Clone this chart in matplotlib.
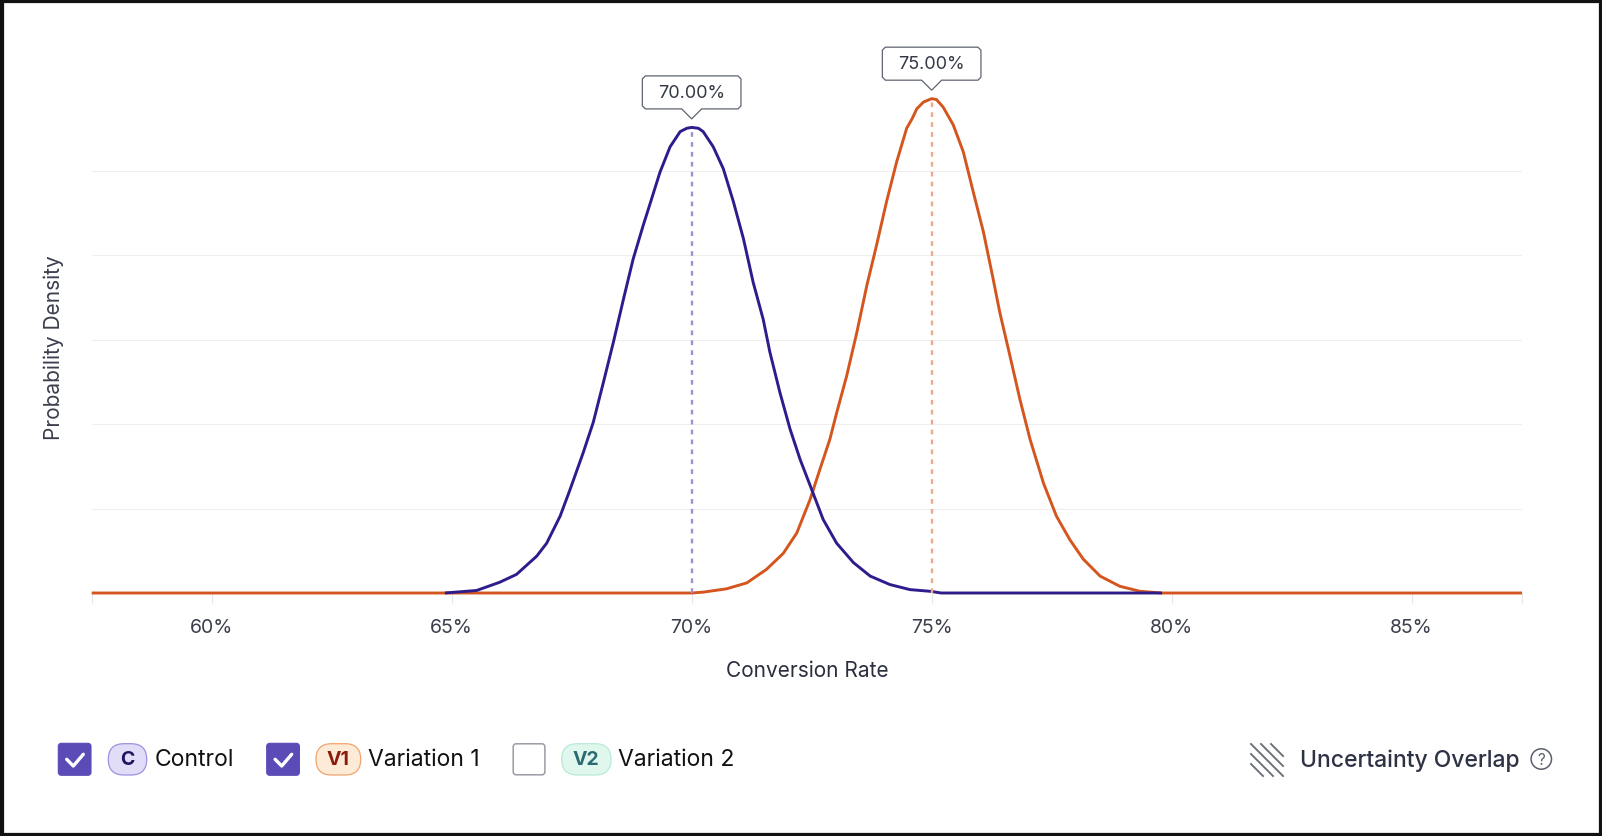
import matplotlib
matplotlib.use("Agg")
import matplotlib.pyplot as plt
from matplotlib.patches import FancyBboxPatch, Polygon, Circle, Rectangle
from matplotlib.lines import Line2D
from matplotlib.transforms import IdentityTransform
import numpy as np

plt.rcParams['font.family'] = ['Inter', 'DejaVu Sans']

W, H = 1602, 837

# ---------------- data ----------------
x_min, x_max = 57.5, 87.3
tick_values = [60, 65, 70, 75, 80, 85]
tick_labels = ['60%', '65%', '70%', '75%', '80%', '85%']

control_x = [64.86, 65.52, 66.0, 66.35, 66.77, 66.98, 67.26, 67.47, 67.74, 67.95,
             68.16, 68.37, 68.58, 68.78, 68.99, 69.13, 69.34, 69.55, 69.76, 69.9,
             70.0, 70.14, 70.24, 70.45, 70.66, 70.87, 71.08, 71.28, 71.49, 71.63,
             71.84, 72.05, 72.26, 72.47, 72.74, 73.02, 73.37, 73.72, 74.13, 74.55,
             74.97, 75.2, 79.8]
control_y = [0.0, 0.03, 0.127, 0.22, 0.435, 0.59, 0.91, 1.23, 1.66, 2.02,
             2.49, 2.97, 3.48, 3.95, 4.35, 4.6, 4.98, 5.28, 5.46, 5.5,
             5.51, 5.5, 5.46, 5.28, 5.02, 4.63, 4.19, 3.68, 3.24, 2.85,
             2.37, 1.94, 1.58, 1.27, 0.87, 0.59, 0.36, 0.2, 0.1, 0.04,
             0.02, 0.0, 0.0]

v1_x = [57.5, 70.0, 70.24, 70.73, 71.15, 71.56, 71.91, 72.19, 72.47, 72.67,
        72.88, 73.02, 73.23, 73.44, 73.65, 73.85, 74.06, 74.27, 74.48, 74.6,
        74.69, 74.83, 75.0, 75.1, 75.24, 75.45, 75.66, 75.87, 76.08, 76.28,
        76.42, 76.63, 76.84, 77.05, 77.33, 77.6, 77.88, 78.16, 78.51, 78.92,
        79.34, 79.8, 87.3]
v1_y = [0.0, 0.0, 0.01, 0.05, 0.12, 0.28, 0.47, 0.71, 1.11, 1.46,
        1.82, 2.13, 2.57, 3.08, 3.64, 4.11, 4.63, 5.1, 5.5, 5.62,
        5.73, 5.81, 5.85, 5.84, 5.75, 5.54, 5.22, 4.74, 4.27, 3.72,
        3.32, 2.81, 2.29, 1.82, 1.3, 0.91, 0.63, 0.4, 0.2, 0.08,
        0.02, 0.0, 0.0]

means = [70.0, 75.0]
mean_labels = ['70.00%', '75.00%']

legend_codes = ['C', 'V1', 'V2']
legend_names = ['Control', 'Variation 1', 'Variation 2']
legend_checked = [True, True, False]

# ---------------- styles ----------------
c_ctrl = '#2E1C8D'
c_v1 = '#D4561E'
c_ctrl_dot = '#9C91D4'
c_v1_dot = '#EFA88B'

fig = plt.figure(figsize=(W / 100, H / 100), dpi=100)
fig.patch.set_facecolor('white')

ax_left, ax_right = 91.7, 1522.0
ax_bottom_px, ax_top_px = 594.0, 87.0
ax = fig.add_axes([ax_left / W, (H - ax_bottom_px) / H,
                   (ax_right - ax_left) / W, (ax_bottom_px - ax_top_px) / H])
ax.set_xlim(x_min, x_max)
ax.set_ylim(0, 6)
for s in ax.spines.values():
    s.set_visible(False)

ax.set_yticks([1, 2, 3, 4, 5])
ax.tick_params(axis='y', length=0, labelleft=False)
ax.grid(axis='y', color='#EEEEEE', lw=0.8)
ax.set_axisbelow(True)

ax.set_xticks(tick_values)
ax.set_xticklabels(tick_labels)
ax.set_xticks([x_min, x_max], minor=True)
ax.tick_params(axis='x', which='both', length=7, width=0.8, color='#E6E6E6',
               labelsize=14, labelcolor='#3A3F4B', pad=11)

ax.set_xlabel('Conversion Rate', fontsize=15, color='#2A2F3D')
ax.xaxis.set_label_coords(0.5, -0.133)
ax.set_ylabel('Probability Density', fontsize=15, color='#3A3F4B')
ax.yaxis.set_label_coords(-0.0194, 0.486)

# curves
ax.plot(v1_x, v1_y, color=c_v1, lw=2.1, clip_on=False, zorder=3,
        solid_joinstyle='round', solid_capstyle='butt')
ax.plot(control_x, control_y, color=c_ctrl, lw=2.1, clip_on=False, zorder=4,
        solid_joinstyle='round', solid_capstyle='butt')

peaks = [float(np.interp(means[0], control_x, control_y)),
         float(np.interp(means[1], v1_x, v1_y))]
dot_cols = [c_ctrl_dot, c_v1_dot]
for m, pk, col in zip(means, peaks, dot_cols):
    ax.plot([m, m], [0, pk], color=col, lw=1.7, ls=(0, (2.0, 2.2)), zorder=5)

# callouts
tr = IdentityTransform()
for m, pk, lab in zip(means, peaks, mean_labels):
    px, py = ax.transData.transform((m, pk))
    tip = py + 8.5
    bot = tip + 10
    top = bot + 33
    hw, tw, r = 49.3, 10, 3
    verts = [(px, tip), (px + tw, bot), (px + hw - r, bot), (px + hw, bot + r),
             (px + hw, top - r), (px + hw - r, top), (px - hw + r, top),
             (px - hw, top - r), (px - hw, bot + r), (px - hw + r, bot),
             (px - tw, bot)]
    poly = Polygon(verts, closed=True, facecolor='white', edgecolor='#5F6470',
                   lw=0.9, transform=tr, zorder=10)
    fig.add_artist(poly)
    fig.text(px / W, ((bot + top) / 2) / H, lab, ha='center', va='center',
             fontsize=13, color='#333844', zorder=11)


# ---------------- legend ----------------
def P(x, y):
    return x, H - y


def add_box(x0, y0, x1, y1, rs, fc, ec, lw):
    X, Y = P(x0, y1)
    b = FancyBboxPatch((X, Y), x1 - x0, y1 - y0,
                       boxstyle=f"round,pad=0,rounding_size={rs}",
                       facecolor=fc, edgecolor=ec, lw=lw, transform=tr)
    fig.add_artist(b)


def ftext(x, y, s, **kw):
    fig.text(x / W, 1 - y / H, s, **kw)


dy = 2.0
cy = 758.3 + dy
checks_x = [58.3, 266.7, 512.7]
badge_x = [(108.3, 146.7), (316.0, 360.7), (561.7, 611.0)]
name_x = [155, 368, 618]
badge_fc = ['#E1DDF8', '#FDEBD8', '#E0F7EE']
badge_ec = ['#9C92E1', '#F0A46F', '#B8EBD5']
badge_tc = ['#1D1462', '#8C1B0C', '#2A6B73']

for i in range(3):
    x0 = checks_x[i]
    if legend_checked[i]:
        add_box(x0, 742.3 + dy, x0 + 32.7, 774.3 + dy, 3, '#5A4BB6', '#5A4BB6', 0.8)
        xs = [x0 + 8.4, x0 + 15.0, x0 + 25.0]
        ys = [758.3 + dy, 765.0 + dy, 753.3 + dy]
        pts = [P(a, b) for a, b in zip(xs, ys)]
        fig.add_artist(Line2D([p[0] for p in pts], [p[1] for p in pts],
                              color='white', lw=2.4, solid_capstyle='round',
                              solid_joinstyle='round', transform=tr))
    else:
        add_box(x0 + 0.5, 742.8 + dy, x0 + 32.2, 773.8 + dy, 3, 'white', '#9B9DA6', 1.1)
    bx0, bx1 = badge_x[i]
    add_box(bx0, 742.7 + dy, bx1, 774.0 + dy, 15.6, badge_fc[i], badge_ec[i], 0.9)
    ftext((bx0 + bx1) / 2, cy, legend_codes[i], ha='center', va='center',
          fontsize=14, fontweight='bold', color=badge_tc[i])
    ftext(name_x[i], cy, legend_names[i], ha='left', va='center',
          fontsize=16.5, color='#111111')

# uncertainty overlap icon (diagonal hatching)
hx0, hy0, hs = 1251.0, 743.0 + dy, 32.0
for c in [-20, -10, 0, 10, 20]:
    xa = max(0, -c)
    xb = min(hs, hs - c)
    p1 = P(hx0 + xa, hy0 + xa + c)
    p2 = P(hx0 + xb, hy0 + xb + c)
    fig.add_artist(Line2D([p1[0], p2[0]], [p1[1], p2[1]], color='#6E727B',
                          lw=1.4, transform=tr))

ftext(1300, cy, 'Uncertainty Overlap', ha='left', va='center', fontsize=16.5,
      fontweight='medium', color='#2D3344')
qx, qy = P(1541.3, 758.0 + dy)
fig.add_artist(Circle((qx, qy), 10.2, facecolor='none', edgecolor='#5A5F6B',
                      lw=1.1, transform=tr))
ftext(1541.3, 758.5 + dy, '?', ha='center', va='center', fontsize=11, color='#5A5F6B')

# outer frame
fig.add_artist(Rectangle((0, 0), 1, 1, transform=fig.transFigure, fill=False,
                         edgecolor='#111111', lw=5.2))

fig.savefig('out.png', dpi=100)
